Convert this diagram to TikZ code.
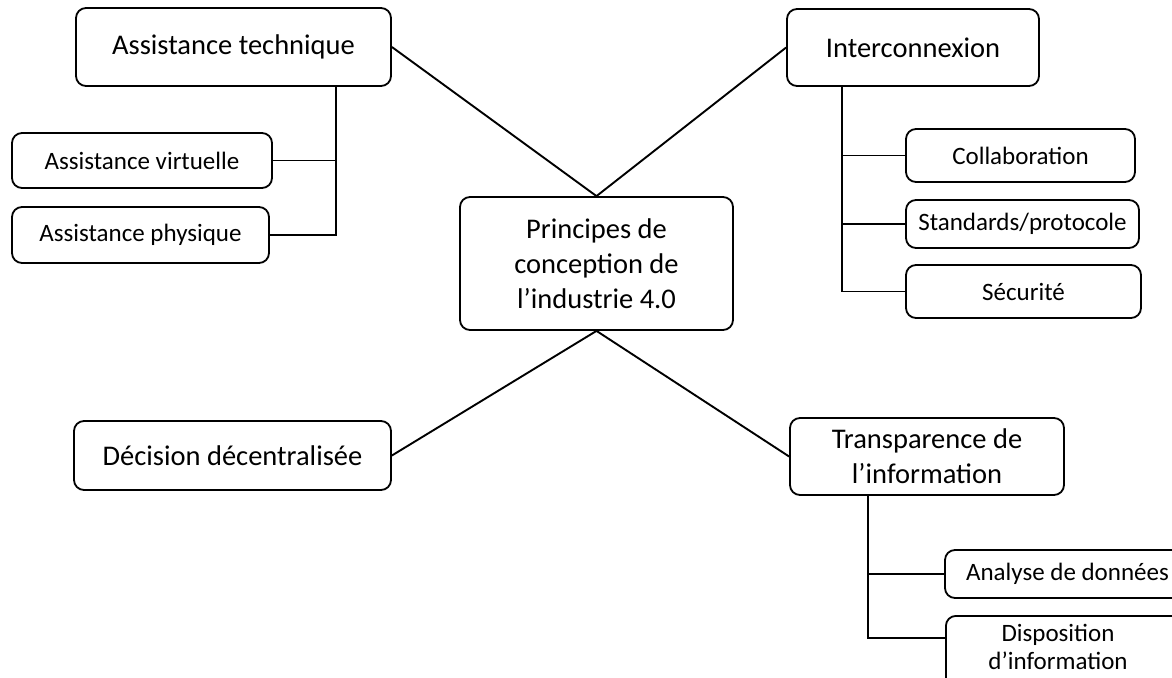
\documentclass[tikz,border=0pt]{standalone}
\usepackage{fontspec}
\setmainfont{Carlito}
\begin{document}
\begin{tikzpicture}[x=1pt,y=-1pt,
 box/.style={draw,rounded corners=10pt,line width=1.8pt,fill=white,inner sep=0pt,align=center},
 big/.style={box,font=\fontsize{28.5}{35}\selectfont},
 small/.style={box,font=\fontsize{25}{28}\selectfont},
 link/.style={line width=1.9pt}]
\useasboundingbox (0,0) rectangle (1172,677);
\clip (0,0) rectangle (1172,677);
% main nodes
\node[big,minimum width=315,minimum height=78] (at) at (233.5,47) {Assistance technique};
\node[big,minimum width=252,minimum height=77] (ic) at (913,47.5) {Interconnexion};
\node[big,minimum width=273,minimum height=133] (ce) at (596.5,263.5) {Principes de\\conception de\\l’industrie 4.0};
\node[big,minimum width=317,minimum height=69] (dd) at (232.5,455.5) {Décision décentralisée};
\node[big,minimum width=274,minimum height=77] (tr) at (927,456.5) {Transparence de\\l’information};
% sub nodes
\node[small,minimum width=260,minimum height=55] (av) at (142,160.5) {Assistance virtuelle};
\node[small,minimum width=257,minimum height=56] (ap) at (140.5,235) {Assistance physique};
\node[small,minimum width=229,minimum height=53] (co) at (1020.5,155.5) {Collaboration};
\node[small,minimum width=233,minimum height=48] (st) at (1022.5,224) {Standards/protocole};
\node[small,minimum width=235,minimum height=53] (se) at (1023.5,291.5) {Sécurité};
\node[small,minimum width=245,minimum height=48] (an) at (1067.5,574) {Analyse de données};
\node[small,minimum width=245,minimum height=80,anchor=north west] (di) at (945,615) {};
\node[small,draw=none,fill=none] (dit) at (1058,647) {Disposition\\d’information};
% spokes
\draw[link] (at.east) -- (ce.north);
\draw[link] (ic.west) -- (ce.north);
\draw[link] (dd.east) -- (ce.south);
\draw[link] (tr.west) -- (ce.south);
% trees
\coordinate (atx) at (336,86);
\draw[link] (atx) |- (av.east);
\draw[link] (atx) |- (ap.east);
\coordinate (icx) at (842,86);
\draw[link] (icx) |- (co.west);
\draw[link] (icx) |- (st.west);
\draw[link] (icx) |- (se.west);
\coordinate (trx) at (868,495);
\coordinate (dij) at (945,638);
\draw[link] (trx) |- (an.west);
\draw[link] (trx) |- (dij);
\end{tikzpicture}
\end{document}
